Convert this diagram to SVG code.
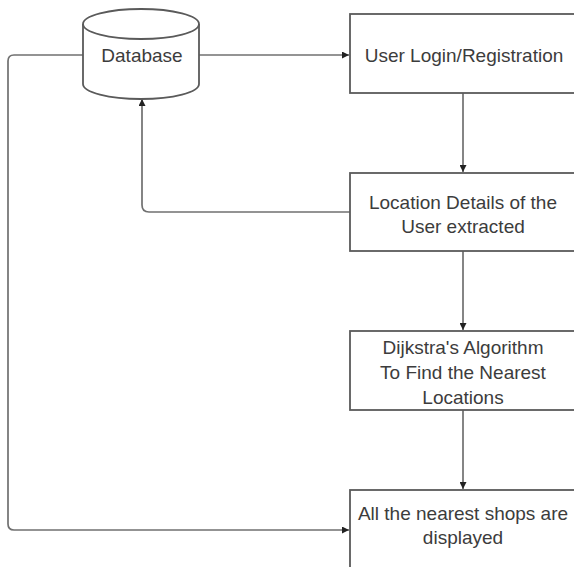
<svg xmlns="http://www.w3.org/2000/svg" width="574" height="567" viewBox="0 0 574 567">
<style>
.box{fill:#fff;stroke:#5a5a5a;stroke-width:1.8}
.lbl{font-family:"Liberation Sans",Arial,sans-serif;font-size:19px;fill:#3c3c3c;text-anchor:middle}
.edge{fill:none;stroke:#707070;stroke-width:1.7}
</style>
<defs>
<marker id="ah" viewBox="0 0 10 10" refX="10" refY="5" markerWidth="7" markerHeight="7" markerUnits="userSpaceOnUse" orient="auto">
<path d="M0,0 L10,5 L0,10 z" fill="#222"/>
</marker>
</defs>
<rect width="574" height="567" fill="#fff"/>
<g id="connectors">
<path class="edge" d="M199,55 L349,55" marker-end="url(#ah)"/>
<path class="edge" d="M463,93 L463,172" marker-end="url(#ah)"/>
<path class="edge" d="M350,212 L149,212 Q142,212 142,205 L142,99" marker-end="url(#ah)"/>
<path class="edge" d="M463,251 L463,330" marker-end="url(#ah)"/>
<path class="edge" d="M463,410 L463,489" marker-end="url(#ah)"/>
<path class="edge" d="M83,55 L14,55 Q8,55 8,61 L8,524 Q8,530 14,530 L349,530" marker-end="url(#ah)"/>
</g>
<g id="database">
<path class="box" d="M83,24 L83,84 A58,15 0 0 0 199,84 L199,24 A58,15 0 0 0 83,24 Z"/>
<path class="box" style="fill:none" d="M83,24 A58,15 0 0 0 199,24"/>
<text class="lbl" x="142" y="62">Database</text>
</g>
<g id="login">
<rect class="box" x="350" y="14" width="240" height="79"/>
<text class="lbl" x="464" y="62">User Login/Registration</text>
</g>
<g id="location">
<rect class="box" x="350" y="173" width="240" height="78"/>
<text class="lbl" x="463" y="209">Location Details of the</text>
<text class="lbl" x="463" y="233">User extracted</text>
</g>
<g id="dijkstra">
<rect class="box" x="350" y="331" width="240" height="79"/>
<text class="lbl" x="463" y="354">Dijkstra's Algorithm</text>
<text class="lbl" x="463" y="379">To Find the Nearest</text>
<text class="lbl" x="463" y="404">Locations</text>
</g>
<g id="shops">
<rect class="box" x="350" y="490" width="240" height="90"/>
<text class="lbl" x="463" y="520">All the nearest shops are</text>
<text class="lbl" x="463" y="544">displayed</text>
</g>
</svg>
